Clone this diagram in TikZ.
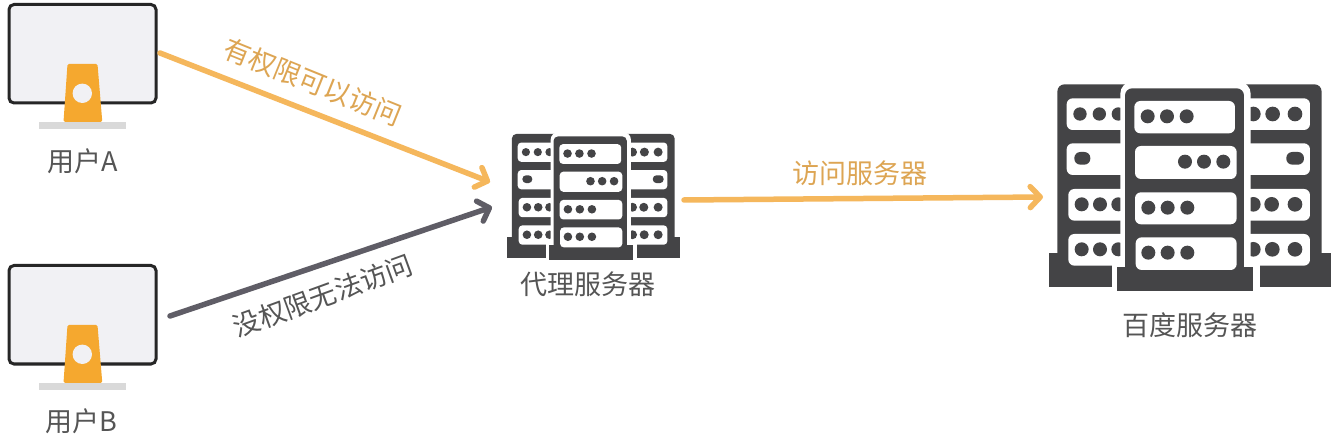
\documentclass[tikz,border=0pt]{standalone}
\usepackage{fontspec}
\setmainfont{Noto Sans CJK SC}
\usetikzlibrary{arrows.meta}
\definecolor{srv}{HTML}{444446}
\definecolor{org}{HTML}{F5B75C}
\definecolor{gry}{HTML}{5F5D66}
\definecolor{scr}{HTML}{F1F1F4}
\definecolor{stand}{HTML}{F5A82F}
\definecolor{txt}{HTML}{555555}
\tikzset{
  lbl/.style={font=\fontsize{27}{27}\selectfont,text=txt,inner sep=0pt},
  olbl/.style={font=\fontsize{27}{27}\selectfont,text=org!90!black,inner sep=0pt},
  conn/.style={line width=5.5pt,line cap=round,line join=round,-{Straight Barb[round,length=10pt,width=21pt,line width=5.5pt]}},
}
\newcommand{\slotbox}[5]{\fill[white,rounded corners=#5pt] (#1,#2) rectangle (#3,#4);}
\newcommand{\srvdots}[3]{\foreach \dx in {#1}{\fill[srv] (\dx,#2) circle[radius=#3];}}
\newcommand{\serverart}[1]{%
  % side towers (outer corners rounded, inner edges cut by the halo)
  \fill[srv,rounded corners=#1pt*1.2] (52,560) -- (52,28) -- (300,28) -- (300,560) -- cycle;
  \fill[srv] (28,535) rectangle (217,637);
  \fill[srv,rounded corners=#1pt*1.2] (560,560) -- (560,28) -- (845,28) -- (845,560) -- cycle;
  \fill[srv] (660,535) rectangle (872,637);
  % left slots
  \slotbox{80}{70}{262}{165}{#1}
  \slotbox{80}{205}{262}{300}{#1}
  \slotbox{85}{342}{262}{437}{#1}
  \slotbox{85}{477}{262}{572}{#1}
  % right slots
  \slotbox{610}{70}{810}{165}{#1}
  \slotbox{610}{205}{810}{300}{#1}
  \slotbox{610}{342}{810}{437}{#1}
  \slotbox{610}{477}{810}{572}{#1}
  \srvdots{120,178,235}{117}{20}
  \srvdots{640,698,765}{117}{22}
  \fill[srv,rounded corners=#1pt] (103,231) rectangle (151,269);
  \fill[srv,rounded corners=#1pt] (739,231) rectangle (792,269);
  \srvdots{125,180,235}{388}{21}
  \srvdots{640,695,765}{388}{22}
  \srvdots{125,180,235}{523}{21}
  \srvdots{640,697,765}{523}{22}
  % centre tower with white halo
  \fill[white,rounded corners=#1pt*2] (241,600) -- (241,20) -- (632,20) -- (632,600) -- cycle;
  \fill[white] (217,563) rectangle (660,660);
  \fill[srv,rounded corners=#1pt*1.2] (255,600) -- (255,40) -- (612,40) -- (612,600) -- cycle;
  \fill[srv] (232,575) rectangle (640,647);
  \slotbox{283}{78}{585}{175}{#1}
  \slotbox{285}{213}{590}{312}{#1}
  \slotbox{285}{352}{590}{448}{#1}
  \slotbox{287}{487}{590}{585}{#1}
  \srvdots{323,381,440}{124}{21}
  \srvdots{435,492,550}{260}{21}
  \srvdots{325,383,442}{398}{21}
  \srvdots{325,383,442}{533}{21}
}
\newcommand{\monitorart}{%
  \draw[line width=3pt,draw=black!85,fill=scr,rounded corners=5pt] (9,4.5) rectangle (156,103);
  \fill[stand,rounded corners=1.5pt] (63.5,122) -- (67.5,64) -- (97.5,64) -- (102.3,122) -- cycle;
  \fill[scr] (82.3,93.3) circle[radius=9.7];
  \fill[gray!30] (39,122) rectangle (126,128.7);
}
\begin{document}
\begin{tikzpicture}[x=1pt,y=-1pt]
\useasboundingbox (0,0) rectangle (1339,438);
\fill[white] (0,0) rectangle (1339,438);
\begin{scope}\monitorart\end{scope}
\begin{scope}[yshift=-261pt]\monitorart\end{scope}
\begin{scope}[shift={(1040,75)},x=0.3333pt,y=-0.3333pt]\serverart{6}\end{scope}
\begin{scope}[shift={(501.3,128.3)},x=0.205pt,y=-0.2035pt]\serverart{3.6}\end{scope}
\coordinate (pcA) at (160,53);
\coordinate (pcB) at (170,316);
\coordinate (proxyA) at (490,182);
\coordinate (proxyB) at (492,207);
\coordinate (proxyOut) at (684,200);
\coordinate (baidu) at (1043,197);
\draw[conn,org] (pcA) -- (proxyA);
\draw[conn,gry] (pcB) -- (proxyB);
\draw[conn,org] (proxyOut) -- (baidu);
\node[lbl] (labelA) at (83,161) {用户A};
\node[lbl] (labelB) at (81,421) {用户B};
\node[lbl] (labelProxy) at (588,284) {代理服务器};
\node[lbl] (labelBaidu) at (1190,325) {百度服务器};
\node[olbl,rotate=-22] (tA) at (313,82) {有权限可以访问};
\node[lbl,rotate=20] (tB) at (323,296) {没权限无法访问};
\node[olbl] (tC) at (860,173) {访问服务器};
\end{tikzpicture}
\end{document}
